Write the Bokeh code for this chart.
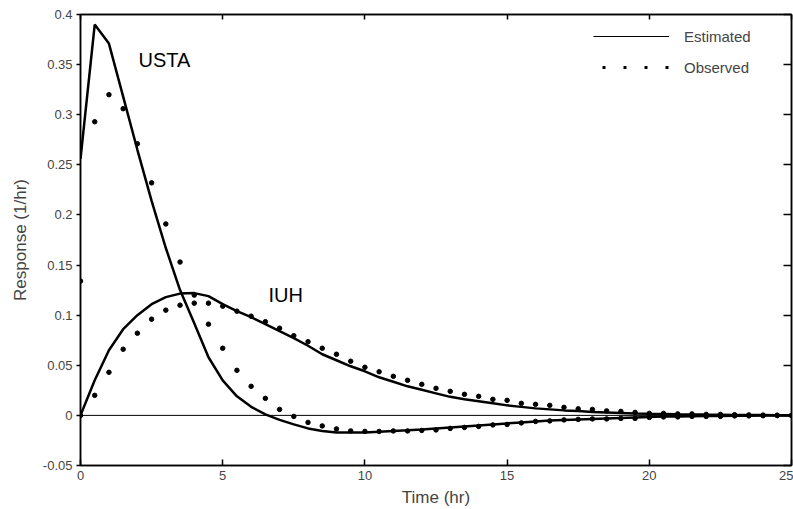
from bokeh.plotting import figure
from bokeh.models import (Range1d, LinearAxis, FixedTicker, Span, Legend,
                          LegendItem, ColumnDataSource)
from bokeh.core.properties import value
from bokeh.embed import file_html
from bokeh.resources import INLINE

# ---------------- data ----------------
time_hr = [0, 0.5, 1, 1.5, 2, 2.5, 3, 3.5, 4, 4.5, 5, 5.5, 6, 6.5, 7, 7.5,
           8, 8.5, 9, 9.5, 10, 10.5, 11, 11.5, 12, 12.5, 13, 13.5, 14, 14.5,
           15, 15.5, 16, 16.5, 17, 17.5, 18, 18.5, 19, 19.5, 20, 20.5, 21,
           21.5, 22, 22.5, 23, 23.5, 24, 24.5, 25]

usta_observed = [0.134, 0.293, 0.320, 0.306, 0.271, 0.232, 0.191, 0.153,
                 0.120, 0.091, 0.067, 0.045, 0.029, 0.017, 0.006, -0.001,
                 -0.007, -0.0105, -0.0135, -0.0155, -0.016, -0.016, -0.0155,
                 -0.0155, -0.015, -0.0145, -0.013, -0.012, -0.011, -0.0095,
                 -0.009, -0.0075, -0.006, -0.0055, -0.0045, -0.004, -0.0035,
                 -0.0035, -0.003, -0.003, -0.002, -0.0015, -0.0015, -0.001,
                 -0.001, -0.001, -0.0005, -0.0005, -0.0003, -0.0002, 0.0]

iuh_observed = [0.0, 0.020, 0.043, 0.066, 0.082, 0.096, 0.105, 0.110, 0.112,
                0.112, 0.109, 0.104, 0.099, 0.0935, 0.087, 0.0795, 0.0735,
                0.067, 0.061, 0.054, 0.048, 0.0435, 0.039, 0.035, 0.031,
                0.027, 0.024, 0.021, 0.019, 0.016, 0.015, 0.012, 0.011, 0.010,
                0.008, 0.0065, 0.006, 0.0045, 0.004, 0.003, 0.002, 0.002,
                0.0015, 0.0015, 0.001, 0.001, 0.0007, 0.0005, 0.0003, 0.0002,
                0.0]

usta_estimated = [0.256, 0.390, 0.371, 0.318, 0.265, 0.214, 0.167, 0.125,
                  0.092, 0.058, 0.035, 0.019, 0.0085, 0.001, -0.0045, -0.009,
                  -0.013, -0.0155, -0.017, -0.017, -0.017, -0.0163, -0.0155,
                  -0.0148, -0.014, -0.013, -0.012, -0.011, -0.010, -0.009,
                  -0.008, -0.007, -0.006, -0.0052, -0.0045, -0.004, -0.0035,
                  -0.003, -0.0025, -0.002, -0.0015, -0.0012, -0.001, -0.0008,
                  -0.0007, -0.0005, -0.0004, -0.0003, -0.0002, -0.0001, 0.0]

iuh_estimated = [0.0, 0.035, 0.065, 0.086, 0.100, 0.111, 0.118, 0.1215,
                 0.122, 0.119, 0.111, 0.104, 0.098, 0.091, 0.084, 0.077,
                 0.0695, 0.061, 0.055, 0.049, 0.044, 0.038, 0.0335, 0.029,
                 0.0255, 0.022, 0.0185, 0.016, 0.014, 0.012, 0.010, 0.0085,
                 0.007, 0.006, 0.005, 0.0043, 0.0035, 0.003, 0.0025, 0.002,
                 0.0017, 0.0015, 0.0012, 0.001, 0.0008, 0.0007, 0.0005,
                 0.0004, 0.0003, 0.0002, 0.0002]

x_ticks = [0, 5, 10, 15, 20, 25]
y_ticks = [-0.05, 0, 0.05, 0.1, 0.15, 0.2, 0.25, 0.3, 0.35, 0.4]
y_tick_labels = ["-0.05", "0", "0.05", "0.1", "0.15", "0.2", "0.25", "0.3",
                 "0.35", "0.4"]

curve_names = ["USTA", "IUH"]
curve_name_x = [2.04, 6.61]
curve_name_y = [0.355, 0.120]

FONT = "Liberation Sans"
NAN = float("nan")

# ---------------- figure ----------------
p = figure(width=793, height=509, x_range=Range1d(0, 25),
           y_range=Range1d(-0.05, 0.4), output_backend="svg",
           toolbar_location=None, min_border_left=80, min_border_right=2,
           min_border_top=14, min_border_bottom=43)
p.grid.visible = False
p.outline_line_color = "black"
p.outline_line_width = 1.5
p.background_fill_color = "white"
p.border_fill_color = "white"

# bottom axis
xa = p.xaxis[0]
xa.ticker = FixedTicker(ticks=x_ticks)
xa.major_tick_in = 6
xa.major_tick_out = 0
xa.minor_tick_in = 0
xa.minor_tick_out = 0
xa.axis_line_width = 1.5
xa.major_tick_line_width = 1.5
xa.major_label_text_font = FONT
xa.major_label_text_font_size = "13px"
xa.major_label_standoff = 5
xa.axis_label = "Time (hr)"
xa.axis_label_text_font = FONT
xa.axis_label_text_font_size = "17px"
xa.axis_label_text_font_style = "normal"
xa.axis_label_standoff = 5

# left axis
ya = p.yaxis[0]
ya.ticker = FixedTicker(ticks=y_ticks)
ya.major_label_overrides = dict(zip(y_ticks, y_tick_labels))
ya.major_tick_in = 0
ya.major_tick_out = 4
ya.minor_tick_in = 0
ya.minor_tick_out = 0
ya.axis_line_width = 1.5
ya.major_tick_line_width = 1.5
ya.major_label_text_font = FONT
ya.major_label_text_font_size = "13px"
ya.major_label_standoff = 4
ya.axis_label = "Response (1/hr)"
ya.axis_label_text_font = FONT
ya.axis_label_text_font_size = "17px"
ya.axis_label_text_font_style = "normal"
ya.axis_label_standoff = 10

# top and right axes: inward ticks, no labels
top = LinearAxis(ticker=FixedTicker(ticks=x_ticks),
                 major_label_overrides={t: "" for t in x_ticks},
                 major_label_standoff=0, major_label_text_font_size="1px",
                 major_tick_in=5, major_tick_out=0, minor_tick_in=0,
                 minor_tick_out=0, axis_line_width=1.5,
                 major_tick_line_width=1.5)
p.add_layout(top, "above")
right = LinearAxis(ticker=FixedTicker(ticks=y_ticks),
                   major_label_overrides={t: "" for t in y_ticks},
                   major_label_standoff=0, major_label_text_font_size="1px",
                   major_tick_in=8, major_tick_out=0, minor_tick_in=0,
                   minor_tick_out=0, axis_line_width=1.5,
                   major_tick_line_width=1.5)
p.add_layout(right, "right")

# zero line
p.add_layout(Span(location=0, dimension="width", line_color="black",
                  line_width=1))

src = ColumnDataSource(dict(t=time_hr, usta_obs=usta_observed,
                            iuh_obs=iuh_observed, usta_est=usta_estimated,
                            iuh_est=iuh_estimated))

p.line("t", "usta_est", source=src, line_color="black", line_width=2.5)
p.line("t", "iuh_est", source=src, line_color="black", line_width=2.5)
p.scatter("t", "usta_obs", source=src, size=4.5, marker="circle",
          fill_color="black", line_color="black")
p.scatter("t", "iuh_obs", source=src, size=4.5, marker="circle",
          fill_color="black", line_color="black")

lbl_src = ColumnDataSource(dict(x=curve_name_x, y=curve_name_y,
                                text=curve_names))
p.text("x", "y", "text", source=lbl_src, text_font=value(FONT),
       text_font_size="20px", text_color="black", text_baseline="alphabetic",
       text_align="left")

# legend (separate thin renderers, no visible data, used only for the key)
leg_est = p.line([NAN], [NAN], line_color="black", line_width=1)
leg_obs = p.line([NAN], [NAN], line_color="black", line_width=3,
                 line_dash="3 18", line_dash_offset=12)
legend = Legend(items=[LegendItem(label="Estimated", renderers=[leg_est]),
                       LegendItem(label="Observed", renderers=[leg_obs])],
                location=(513, 388), margin=0, padding=0, spacing=11,
                glyph_width=76, glyph_height=20, label_height=20,
                label_standoff=15, border_line_color=None,
                background_fill_alpha=0, label_text_font=FONT,
                label_text_font_size="15px")
p.add_layout(legend)

open("out.html", "w").write(file_html(p, INLINE))
